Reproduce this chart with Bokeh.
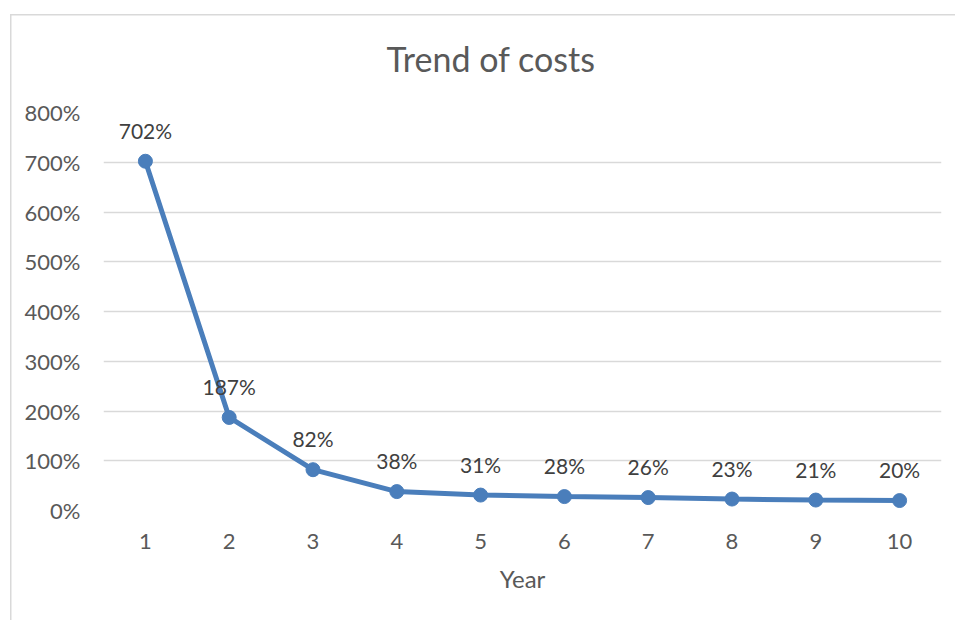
from bokeh.plotting import figure
from bokeh.models import Range1d, FixedTicker, PrintfTickFormatter, ColumnDataSource
from bokeh.core.properties import value
from bokeh.embed import file_html
from bokeh.resources import INLINE

years = [1, 2, 3, 4, 5, 6, 7, 8, 9, 10]
cost_pct = [702, 187, 82, 38, 31, 28, 26, 23, 21, 20]
y_ticks = [0, 100, 200, 300, 400, 500, 600, 700, 800]
x_labels = {y: str(y) for y in years}
title_text = "Trend of costs"

FONT = "Lato"
BLUE = "#4a7ebb"
BORDER = "#d9d9d9"

src = ColumnDataSource(dict(x=years, y=cost_pct, lbl=[f"{v}%" for v in cost_pct]))

p = figure(width=955, height=620, output_backend="svg", toolbar_location=None,
           x_range=Range1d(0.5, 10.5), y_range=Range1d(0, 800),
           min_border_left=103, min_border_right=14, min_border_top=112, min_border_bottom=110)
# chart-area border (top and left edge of the Excel-like chart box)
p.styles = {
    "background-color": "white",
    "background-image": f"linear-gradient({BORDER},{BORDER}), linear-gradient({BORDER},{BORDER})",
    "background-repeat": "no-repeat, no-repeat",
    "background-position": "10px 14px, 10px 14px",
    "background-size": "100% 1.5px, 1.5px 100%",
}
p.outline_line_color = None
p.background_fill_color = "white"
p.border_fill_color = None

p.title.text = title_text
p.title.align = "left"
p.title.text_font = FONT
p.title.text_font_size = "34px"
p.title.text_font_style = "normal"
p.title.text_color = "#595959"
p.title.offset = 283
p.title.standoff = 67

p.line("x", "y", source=src, line_color=BLUE, line_width=5)
p.scatter("x", "y", source=src, size=14, fill_color=BLUE, line_color=BLUE)
p.text("x", "y", text="lbl", source=src, y_offset=-31, text_align="center",
       text_baseline="middle", text_font=value(FONT), text_font_size="21px",
       text_color="#404040")

p.xgrid.grid_line_color = None
p.ygrid.grid_line_color = BORDER
p.ygrid.grid_line_width = 1.5

p.yaxis.ticker = FixedTicker(ticks=y_ticks)
p.yaxis.formatter = PrintfTickFormatter(format="%d%%")
p.xaxis.ticker = FixedTicker(ticks=years)
p.xaxis.major_label_overrides = x_labels
p.xaxis.axis_label = "Year"

for ax in (p.xaxis[0], p.yaxis[0]):
    ax.axis_line_color = None
    ax.major_tick_line_color = None
    ax.minor_tick_line_color = None
    ax.major_tick_out = 0
    ax.major_tick_in = 0
    ax.major_label_text_font = FONT
    ax.major_label_text_font_size = "22px"
    ax.major_label_text_color = "#595959"
    ax.axis_label_text_font = FONT
    ax.axis_label_text_font_size = "24px"
    ax.axis_label_text_font_style = "normal"
    ax.axis_label_text_color = "#595959"

p.yaxis.major_label_standoff = 23
p.xaxis.major_label_standoff = 23
p.xaxis.axis_label_standoff = 12

open("out.html", "w").write(file_html(p, INLINE))
